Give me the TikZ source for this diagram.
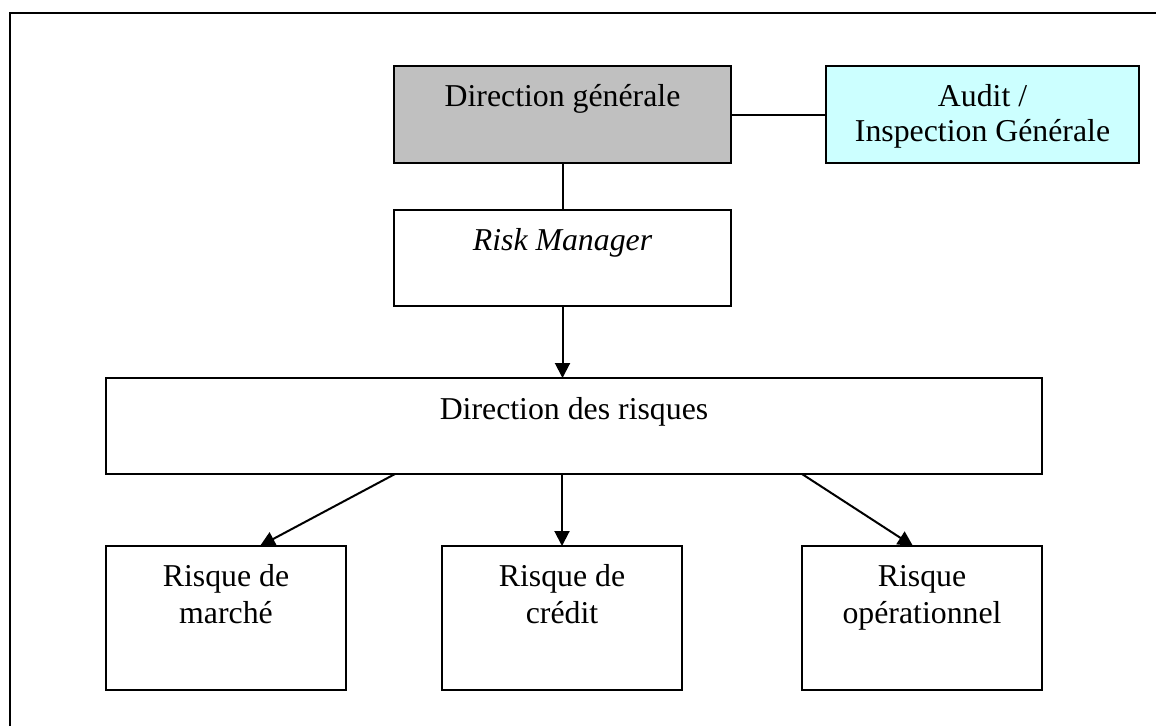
\documentclass[tikz,border=0pt]{standalone}
\usepackage{fontspec}
\setmainfont{Liberation Serif}
\usetikzlibrary{arrows.meta}
\definecolor{dggray}{HTML}{C0C0C0}
\definecolor{aucyan}{HTML}{CCFFFF}
\begin{document}
\begin{tikzpicture}[x=1pt,y=-1pt,
  box/.style={draw=black,line width=2pt,inner sep=0pt,outer sep=0pt,fill=white},
  txt/.style={anchor=base,inner sep=0pt,font=\fontsize{31.8}{37}\selectfont},
  link/.style={line width=2pt},
  arr/.style={line width=2pt,-{Triangle[width=15pt,length=15pt]}}]
\useasboundingbox (0,0) rectangle (1156,726);
% outer frame (only left and top edges visible)
\draw[line width=2pt] (10,726) -- (10,13) -- (1156,13);
% boxes
\node[box,fill=dggray,minimum width=337pt,minimum height=97pt] (dg) at (562.5,114.5) {};
\node[box,fill=aucyan,minimum width=313pt,minimum height=97pt] (au) at (982.5,114.5) {};
\node[box,minimum width=337pt,minimum height=96pt] (rm) at (562.5,258) {};
\node[box,minimum width=936pt,minimum height=96pt] (dr) at (574,426) {};
\node[box,minimum width=240pt,minimum height=144pt] (mk) at (226,618) {};
\node[box,minimum width=240pt,minimum height=144pt] (cr) at (562,618) {};
\node[box,minimum width=240pt,minimum height=144pt] (op) at (922,618) {};
% texts
\node[txt] (dgt) at (562.5,106.7) {Direction générale};
\node[txt] (au1) at (982.5,106) {Audit /};
\node[txt] (au2) at (982.5,141.7) {Inspection Générale};
\node[txt] (rmt) at (562.5,250.7) {\itshape Risk Manager};
\node[txt] (drt) at (574,419.3) {Direction des risques};
\node[txt] (mk1) at (226,586) {Risque de};
\node[txt] (mk2) at (226,623) {marché};
\node[txt] (cr1) at (562,586) {Risque de};
\node[txt] (cr2) at (562,623) {crédit};
\node[txt] (op1) at (922,586) {Risque};
\node[txt] (op2) at (922,623) {opérationnel};
% connectors
\draw[link] (dg.east) -- (au.west);
\draw[link] (dg.south) -- (rm.north);
\draw[arr] (rm.south) -- (rm.south |- dr.north);
\draw[arr] (dr.south -| cr.north) -- (cr.north);
\draw[arr] ([xshift=289pt]dr.south west) -- ([xshift=154pt]mk.north west);
\draw[arr] ([xshift=696pt]dr.south west) -- ([xshift=111pt]op.north west);
\end{tikzpicture}
\end{document}
